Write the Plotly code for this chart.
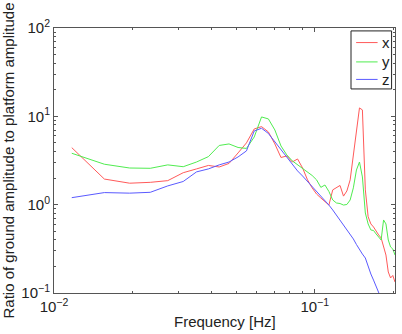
import plotly.graph_objects as go

freq = [0.0117, 0.0156, 0.0195, 0.0234, 0.0273, 0.0313, 0.0352, 0.0391, 0.0430, 0.0469,
        0.0508, 0.0547, 0.0586, 0.0625, 0.0664, 0.0703, 0.0742, 0.0781, 0.0820, 0.0859,
        0.0898, 0.0938, 0.0977, 0.1016, 0.1055, 0.1094, 0.1133, 0.1172, 0.1211, 0.1250,
        0.1289, 0.1328, 0.1367, 0.1406, 0.1445, 0.1484, 0.1523, 0.1563, 0.1602, 0.1641,
        0.1680, 0.1719, 0.1758, 0.1797, 0.1836, 0.1875, 0.1914, 0.1953, 0.1992, 0.2031]

ratio_x = [4.42, 1.95, 1.75, 1.79, 1.87, 2.30, 2.54, 2.78, 2.67, 2.93,
           3.85, 5.00, 7.20, 7.65, 6.66, 4.87, 3.42, 3.56, 3.04, 3.29,
           2.60, 1.91, 1.55, 1.32, 1.19, 1.09, 0.99, 1.47, 1.57, 1.65,
           1.25, 1.43, 1.91, 3.66, 7.79, 12.45, 11.82, 1.47, 0.73, 0.605,
           0.559, 0.497, 0.454, 0.420, 0.332, 0.269, 0.173, 0.148, 0.158, 0.133]

ratio_y = [3.82, 2.87, 2.60, 2.58, 2.82, 2.69, 3.04, 3.50, 4.68, 4.87,
           4.44, 4.33, 5.84, 9.84, 9.35, 7.01, 4.62, 3.66, 3.13, 2.82,
           2.54, 2.29, 2.14, 1.91, 1.57, 1.67, 1.41, 1.13, 1.045, 1.03,
           0.99, 1.005, 1.13, 1.55, 2.47, 3.04, 2.06, 0.805, 0.605, 0.517,
           0.510, 0.466, 0.425, 0.398, 0.671, 0.605, 0.398, 0.332, 0.315, 0.269]

ratio_z = [1.20, 1.37, 1.35, 1.38, 1.63, 1.83, 2.35, 2.54, 2.82, 3.04,
           3.47, 4.06, 6.83, 7.33, 6.40, 5.13, 4.22, 3.38, 2.82, 2.41,
           2.11, 1.83, 1.61, 1.43, 1.27, 1.12, 0.99, 0.871, 0.764, 0.671,
           0.597, 0.531, 0.466, 0.409, 0.354, 0.307, 0.276, 0.249, 0.197, 0.164,
           0.140, 0.117, 0.0987, 0.0833, 0.072, 0.063, 0.055, 0.048, 0.042, 0.037]

series_names = ["x", "y", "z"]
series_colors = ["#ff5a5a", "#50ec50", "#5a5aff"]

y_tickvals = [0.1, 1, 10, 100]
y_ticktext = ["10<sup>−1</sup>", "10<sup>0</sup>", "10<sup>1</sup>", "10<sup>2</sup>"]
x_tickvals = [0.01, 0.1]
x_ticktext = ["10<sup>−2</sup>", "10<sup>−1</sup>"]
x_minor = [0.02, 0.03, 0.04, 0.05, 0.06, 0.07, 0.08, 0.09, 0.2]
y_minor = [m * d for d in (0.1, 1, 10) for m in range(2, 10)]

FONT = "Liberation Sans, Arial, sans-serif"
TXT = "#222222"

fig = go.Figure()
for name, vals, col in zip(series_names, [ratio_x, ratio_y, ratio_z], series_colors):
    fig.add_trace(go.Scatter(x=freq, y=vals, mode="lines", name=name,
                             line=dict(color=col, width=1), showlegend=False))

axis_col = "#555555"
common = dict(type="log", showgrid=False, zeroline=False, showline=True,
              linecolor=axis_col, linewidth=1, mirror="allticks",
              ticks="inside", ticklen=4, tickcolor=axis_col, tickwidth=1,
              tickfont=dict(family=FONT, size=15, color=TXT))

fig.update_xaxes(range=[-2, -0.6923], tickvals=x_tickvals, ticktext=x_ticktext,
                 minor=dict(ticks="inside", ticklen=2, tickcolor=axis_col,
                            tickmode="array", tickvals=x_minor, showgrid=False),
                 **common)
fig.update_yaxes(range=[-1, 2], tickvals=y_tickvals, ticktext=y_ticktext,
                 minor=dict(ticks="inside", ticklen=2, tickcolor=axis_col,
                            tickmode="array", tickvals=y_minor, showgrid=False),
                 title=dict(text="Ratio of ground amplitude to platform amplitude", standoff=3,
                            font=dict(family=FONT, size=15, color=TXT)),
                 **common)

# x-axis title
fig.add_annotation(text="Frequency [Hz]", xref="paper", yref="paper", x=0.5, y=-0.108,
                   xanchor="center", yanchor="middle", showarrow=False,
                   font=dict(family=FONT, size=15, color=TXT))

# custom legend box (MATLAB style)
leg_x0, leg_x1, leg_y0, leg_y1 = 0.871, 0.990, 0.770, 0.989
fig.add_shape(type="rect", xref="paper", yref="paper", x0=leg_x0, x1=leg_x1, y0=leg_y0, y1=leg_y1,
              line=dict(color="#222222", width=1), fillcolor="white", layer="above")
row_y = [0.945, 0.872, 0.806]
for name, col, ry in zip(series_names, series_colors, row_y):
    fig.add_shape(type="line", xref="paper", yref="paper", x0=0.886, x1=0.949, y0=ry, y1=ry,
                  line=dict(color=col, width=1), layer="above")
    fig.add_annotation(text=name, xref="paper", yref="paper", x=0.955, y=ry,
                       xanchor="left", yanchor="middle", showarrow=False,
                       font=dict(family=FONT, size=15, color=TXT))

fig.update_layout(
    width=402, height=334,
    margin=dict(l=54, r=7, t=28, b=41),
    paper_bgcolor="white", plot_bgcolor="white",
    showlegend=False,
)

fig.write_html("out.html", config={"displayModeBar": False},
               post_script="document.body.style.margin='0';document.body.style.overflow='hidden';")
